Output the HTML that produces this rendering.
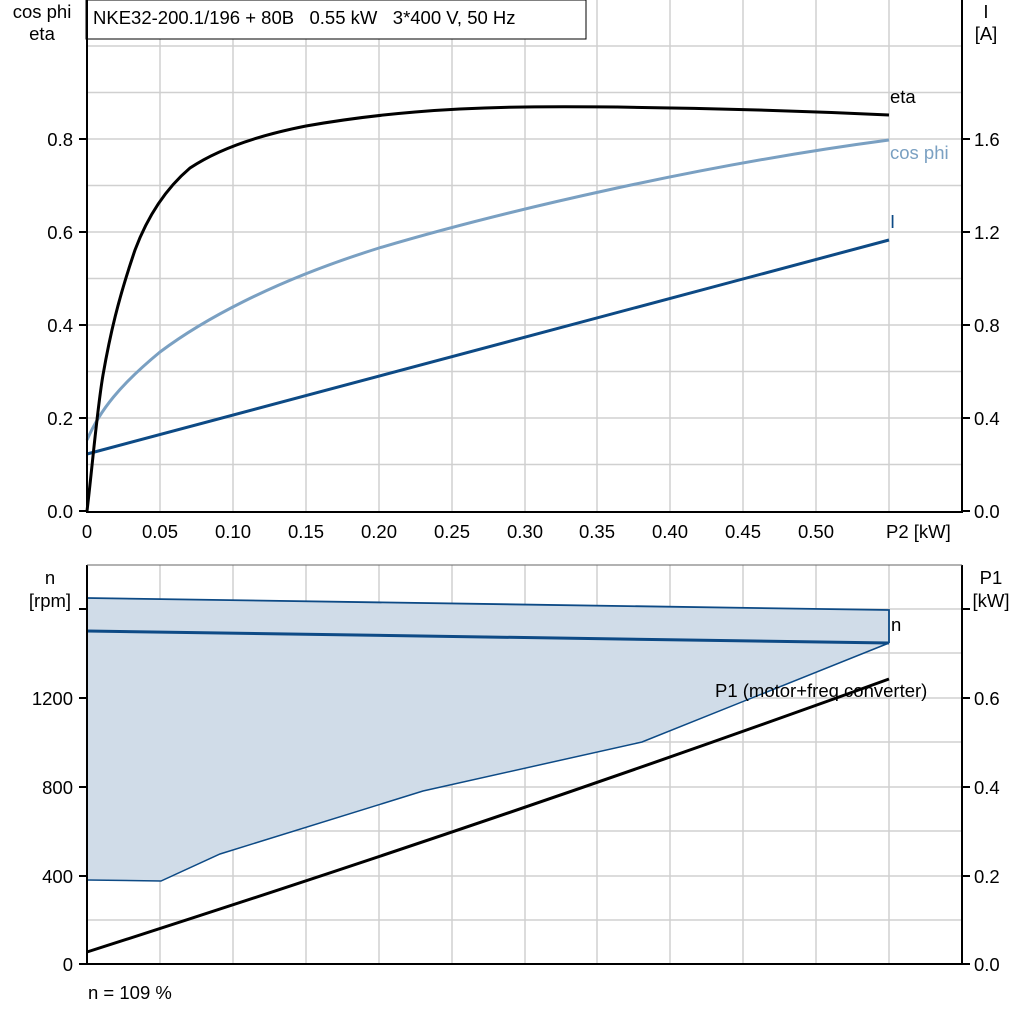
<!DOCTYPE html>
<html><head><meta charset="utf-8"><style>
html,body{margin:0;padding:0;background:#fff;}
svg text{font-family:"Liberation Sans",Arial,sans-serif;font-size:18.5px;fill:#000;white-space:pre;}
</style></head><body>
<svg width="1024" height="1024" viewBox="0 0 1024 1024" xmlns="http://www.w3.org/2000/svg">
<g stroke="#d0d0d0" stroke-width="1.5" fill="none">
<path d="M160 0V511M233 0V511M306 0V511M379 0V511M452 0V511M525 0V511M597 0V511M670 0V511M743 0V511M816 0V511M889 0V511"/>
<path d="M87 46H962M87 92.5H962M87 139H962M87 185.5H962M87 232H962M87 278.5H962M87 325H962M87 371.5H962M87 418H962M87 464.5H962"/>
<path d="M160 565V963M233 565V963M306 565V963M379 565V963M452 565V963M525 565V963M597 565V963M670 565V963M743 565V963M816 565V963M889 565V963"/>
<path d="M87 609H962M87 653H962M87 698H962M87 742H962M87 787H962M87 831H962M87 876H962M87 920H962"/>
</g>
<rect x="86" y="0" width="500" height="39" fill="#fff" stroke="#000" stroke-width="1"/>
<text x="93" y="24" xml:space="preserve">NKE32-200.1/196 + 80B   0.55 kW   3*400 V, 50 Hz</text>
<path d="M87 598 L889 610 L889 643 L642 742 L423 791 L220 854 L161 881 L87 880 Z" fill="#d0dce8"/>
<path d="M87 598 L889 610 L889 643" fill="none" stroke="#0d4a85" stroke-width="1.8"/>
<path d="M889 643 L642 742 L423 791 L220 854 L161 881 L87 880" fill="none" stroke="#0d4a85" stroke-width="1.5"/>
<path d="M87 631 L889 643" stroke="#0d4a85" stroke-width="3" fill="none"/>
<path d="M87 952 Q500 820 889 679" stroke="#000" stroke-width="3" fill="none"/>
<path d="M87 454 L889 240" stroke="#0d4a85" stroke-width="3" fill="none"/>
<path d="M87 440 C100 410 120 385 160 352 C200 322 270 282 379 248 C500 212 700 165 889 140" stroke="#7aa0c2" stroke-width="3" fill="none"/>
<path d="M87 511 C92 470 97 410 103 375 C110 335 118 300 135 250 C150 210 170 185 190 168 C220 148 260 135 306 126 C380 113 450 108 525 107 C620 106 760 109 889 115" stroke="#000" stroke-width="3" fill="none"/>
<g stroke="#000" stroke-width="2" fill="none">
<path d="M87 0V512H962V0"/>
<path d="M87 565V964H962V565"/>
<path d="M79 139H87M79 232H87M79 325H87M79 418H87M79 511H87"/>
<path d="M962 139H970M962 232H970M962 325H970M962 418H970M962 511H970"/>
<path d="M79 609H87M79 698H87M79 787H87M79 876H87M79 964H87"/>
<path d="M962 609H970M962 698H970M962 787H970M962 876H970M962 964H970"/>
</g>
<path d="M87 565H962" stroke="#666" stroke-width="1"/>
<g text-anchor="end">
<text x="73" y="146">0.8</text><text x="73" y="239">0.6</text><text x="73" y="332">0.4</text><text x="73" y="425">0.2</text><text x="73" y="518">0.0</text>
<text x="73" y="705">1200</text><text x="73" y="794">800</text><text x="73" y="883">400</text><text x="73" y="971">0</text>
</g>
<g text-anchor="start">
<text x="974" y="146">1.6</text><text x="974" y="239">1.2</text><text x="974" y="332">0.8</text><text x="974" y="425">0.4</text><text x="974" y="518">0.0</text>
<text x="974" y="705">0.6</text><text x="974" y="794">0.4</text><text x="974" y="883">0.2</text><text x="974" y="971">0.0</text>
</g>
<g text-anchor="middle">
<text x="87" y="538">0</text><text x="160" y="538">0.05</text><text x="233" y="538">0.10</text><text x="306" y="538">0.15</text><text x="379" y="538">0.20</text><text x="452" y="538">0.25</text><text x="525" y="538">0.30</text><text x="597" y="538">0.35</text><text x="670" y="538">0.40</text><text x="743" y="538">0.45</text><text x="816" y="538">0.50</text>
<text x="42" y="18">cos phi</text><text x="42" y="40">eta</text>
<text x="50" y="584">n</text><text x="50" y="607">[rpm]</text>
<text x="986" y="18">I</text><text x="986" y="40">[A]</text>
<text x="991" y="584">P1</text><text x="991" y="607">[kW]</text>
</g>
<text x="886" y="538">P2 [kW]</text>
<text x="890" y="103">eta</text>
<text x="890" y="159" style="fill:#7aa0c2">cos phi</text>
<text x="890" y="228" style="fill:#0d4a85">I</text>
<text x="891" y="631">n</text>
<text x="715" y="697">P1 (motor+freq.converter)</text>
<text x="88" y="999">n = 109 %</text>
</svg>
</body></html>
